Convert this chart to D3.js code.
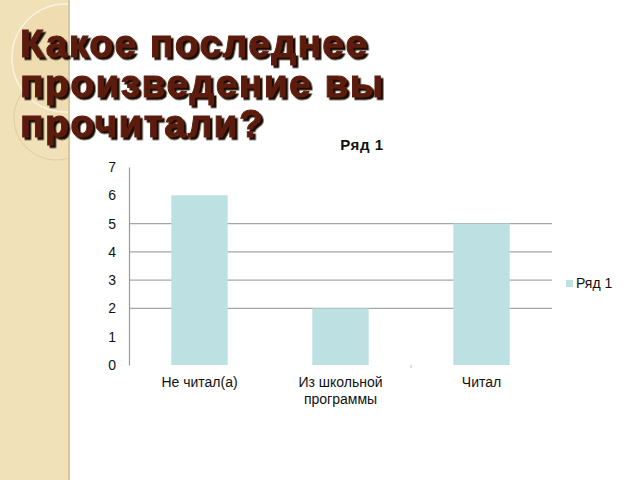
<!DOCTYPE html>
<html>
<head>
<meta charset="utf-8">
<script src="https://cdn.jsdelivr.net/npm/d3@7"></script>
<style>
  body { margin: 0; background: #fff; }
  svg { display: block; font-family: "Liberation Sans", Arial, sans-serif; }
</style>
</head>
<body>
<svg id="chart" width="640" height="480"></svg>
<script>
// chart values
const categories = [["Не читал(а)"], ["Из школьной", "программы"], ["Читал"]];
const seriesName = "Ряд 1";
const values = [6, 2, 5];
const yTicks = [0, 1, 2, 3, 4, 5, 6, 7];
const gridTicks = [2, 3, 4, 5]; // only these show in the picture
const titleLines = ["Какое последнее", "произведение вы", "прочитали?"];

const svg = d3.select("#chart");

// drop shadow for the slide title
const defs = svg.append("defs");
defs.append("filter").attr("id", "shadow")
  .attr("x", "-5%").attr("y", "-20%").attr("width", "115%").attr("height", "150%")
  .append("feDropShadow")
  .attr("dx", 2.5).attr("dy", 2.5).attr("stdDeviation", 0.6)
  .attr("flood-color", "#1a0804").attr("flood-opacity", 1);
defs.append("clipPath").attr("id", "strip")
  .append("rect").attr("x", 0).attr("y", 0).attr("width", 69).attr("height", 480);

// slide background strip on the left
const deco = svg.append("g");
deco.append("rect")
  .attr("x", 0).attr("y", 0).attr("width", 69).attr("height", 480)
  .attr("fill", "#f1e1b9");
const circles = deco.append("g").attr("clip-path", "url(#strip)");
circles.append("circle").attr("cx", 66).attr("cy", 58).attr("r", 54)
  .attr("fill", "#efdcb0").attr("stroke", "#faf3e2").attr("stroke-width", 1.5);
circles.append("circle").attr("cx", 56).attr("cy", 118).attr("r", 42)
  .attr("fill", "none").attr("stroke", "#e2cfa4").attr("stroke-width", 1.2);
deco.append("rect")
  .attr("x", 68).attr("y", 0).attr("width", 2).attr("height", 480)
  .attr("fill", "#d8c8a2");

// slide title
svg.append("g")
  .attr("filter", "url(#shadow)")
  .selectAll("text")
  .data(titleLines)
  .join("text")
  .attr("x", 20)
  .attr("y", (d, i) => 57 + i * 40)
  .attr("font-size", 39).attr("font-weight", "bold")
  .attr("letter-spacing", 1.4)
  .attr("fill", "#5c1c0f").attr("stroke", "#5c1c0f").attr("stroke-width", 1)
  .text(d => d);

// chart area
const margin = { left: 129, right: 552, top: 167, bottom: 365 };

const x = d3.scaleBand()
  .domain(d3.range(categories.length))
  .range([margin.left, margin.right])
  .paddingInner(0.6)
  .paddingOuter(0.3);

const y = d3.scaleLinear()
  .domain([0, 7])
  .range([margin.bottom, margin.top]);

// gridlines
svg.append("g")
  .selectAll("line")
  .data(gridTicks)
  .join("line")
  .attr("x1", margin.left).attr("x2", margin.right)
  .attr("y1", d => y(d)).attr("y2", d => y(d))
  .attr("stroke", "#a6a6a6").attr("stroke-width", 1.2);

// y axis
const yAxis = d3.axisLeft(y).tickValues(yTicks).tickFormat(d3.format("d"))
  .tickSize(0).tickPadding(13);
const yg = svg.append("g")
  .attr("transform", `translate(${margin.left},0)`)
  .call(yAxis);
yg.select(".domain").attr("stroke", "#999").attr("stroke-width", 1.2);
yg.selectAll("text")
  .attr("font-size", 14)
  .attr("font-family", "Liberation Sans, Arial, sans-serif")
  .attr("fill", "#111");

// faint category boundary tick
const step = x.step();
svg.append("line")
  .attr("x1", margin.left + 2 * step).attr("x2", margin.left + 2 * step)
  .attr("y1", y(0)).attr("y2", y(0) + 3)
  .attr("stroke", "#bbb");

// bars
svg.append("g")
  .selectAll("rect")
  .data(values)
  .join("rect")
  .attr("x", (d, i) => x(i))
  .attr("width", x.bandwidth())
  .attr("y", d => y(d))
  .attr("height", d => y(0) - y(d))
  .attr("fill", "#bde0e2");

// category labels
svg.append("g")
  .selectAll("text")
  .data(categories)
  .join("text")
  .attr("x", (d, i) => x(i) + x.bandwidth() / 2)
  .attr("y", y(0) + 22)
  .attr("text-anchor", "middle")
  .attr("font-size", 14)
  .attr("fill", "#111")
  .each(function (d) {
    d.forEach((line, j) => {
      d3.select(this).append("tspan")
        .attr("x", d3.select(this).attr("x"))
        .attr("dy", j === 0 ? 0 : 17)
        .text(line);
    });
  });

// chart title
svg.append("text")
  .attr("x", 362).attr("y", 150)
  .attr("text-anchor", "middle")
  .attr("font-size", 15).attr("font-weight", "bold")
  .attr("letter-spacing", 0.6)
  .attr("fill", "#111")
  .text(seriesName);

// legend
const legend = svg.append("g").attr("transform", "translate(566,280)");
legend.append("rect").attr("width", 7).attr("height", 7).attr("fill", "#bde0e2");
legend.append("text")
  .attr("x", 10).attr("y", 8)
  .attr("font-size", 14).attr("fill", "#111")
  .text(seriesName);
</script>
</body>
</html>
